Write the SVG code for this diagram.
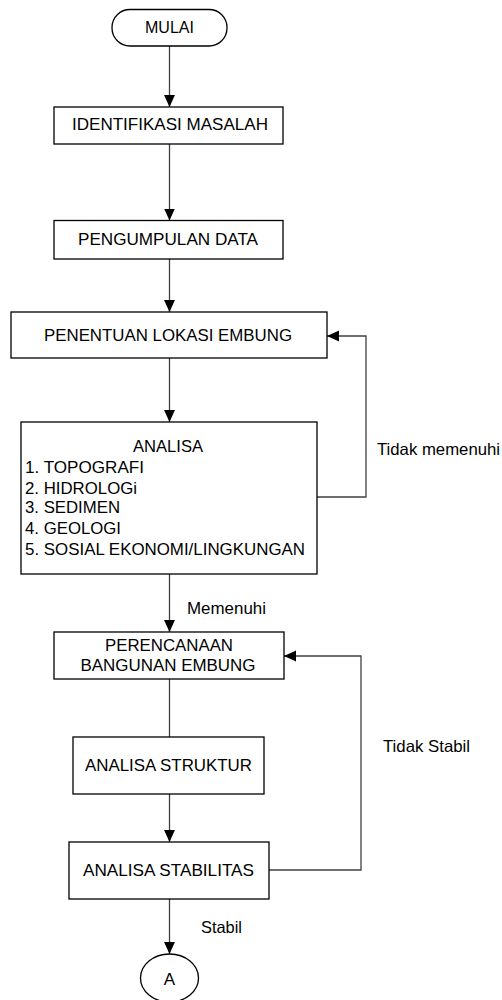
<svg xmlns="http://www.w3.org/2000/svg" width="502" height="1000" viewBox="0 0 502 1000">
<style>
.box{fill:#fff;stroke:#000;stroke-width:1.3}
.ln{fill:none;stroke:#404040;stroke-width:1.3}
.t{font-family:"Liberation Sans",Arial,sans-serif;font-size:16.5px;fill:#000}
.c{text-anchor:middle}
</style>
<defs>
<marker id="ah" markerUnits="userSpaceOnUse" markerWidth="12" markerHeight="12" viewBox="0 0 11 10" refX="11" refY="5" orient="auto">
<path d="M0,0 L11,5 L0,10 Z" fill="#000"/>
</marker>
</defs>
<rect width="502" height="1000" fill="#fff"/>
<g id="connectors">
<line class="ln" x1="169.5" y1="46" x2="169.5" y2="107" marker-end="url(#ah)"/>
<line class="ln" x1="169.5" y1="144" x2="169.5" y2="220.5" marker-end="url(#ah)"/>
<line class="ln" x1="169.5" y1="259" x2="169.5" y2="312" marker-end="url(#ah)"/>
<line class="ln" x1="169.5" y1="358" x2="169.5" y2="422" marker-end="url(#ah)"/>
<line class="ln" x1="169.5" y1="574" x2="169.5" y2="632" marker-end="url(#ah)"/>
<polyline class="ln" points="317,497 366,497 366,336 327,336" marker-end="url(#ah)"/>
<line class="ln" x1="169.5" y1="679" x2="169.5" y2="737"/>
<line class="ln" x1="169.5" y1="794" x2="169.5" y2="842" marker-end="url(#ah)"/>
<polyline class="ln" points="269,870 361,870 361,656 284,656" marker-end="url(#ah)"/>
<line class="ln" x1="169.5" y1="899" x2="169.5" y2="954" marker-end="url(#ah)"/>
<text class="t" x="377" y="455" textLength="123" lengthAdjust="spacingAndGlyphs">Tidak memenuhi</text>
<text class="t" x="187" y="614" textLength="79" lengthAdjust="spacingAndGlyphs">Memenuhi</text>
<text class="t" x="383" y="752" textLength="87" lengthAdjust="spacingAndGlyphs">Tidak Stabil</text>
<text class="t" x="201" y="933" textLength="41" lengthAdjust="spacingAndGlyphs">Stabil</text>
</g>
<g id="mulai">
<rect class="box" x="112" y="9.5" width="115" height="36.5" rx="18" ry="18"/>
<text class="t c" x="169.5" y="33" textLength="49" lengthAdjust="spacingAndGlyphs">MULAI</text>
</g>
<g id="identifikasi">
<rect class="box" x="54" y="107" width="229" height="37"/>
<text class="t c" x="170" y="130" textLength="196" lengthAdjust="spacingAndGlyphs">IDENTIFIKASI MASALAH</text>
</g>
<g id="pengumpulan">
<rect class="box" x="54" y="220.5" width="229" height="38.5"/>
<text class="t c" x="168" y="245" textLength="180" lengthAdjust="spacingAndGlyphs">PENGUMPULAN DATA</text>
</g>
<g id="penentuan">
<rect class="box" x="11" y="312" width="316" height="46"/>
<text class="t c" x="168" y="341" textLength="248" lengthAdjust="spacingAndGlyphs">PENENTUAN LOKASI EMBUNG</text>
</g>
<g id="analisa">
<rect class="box" x="21" y="422" width="296" height="152"/>
<text class="t c" x="168" y="452" textLength="70" lengthAdjust="spacingAndGlyphs">ANALISA</text>
<text class="t" x="25" y="473" textLength="119" lengthAdjust="spacingAndGlyphs">1. TOPOGRAFI</text>
<text class="t" x="25" y="494" textLength="112" lengthAdjust="spacingAndGlyphs">2. HIDROLOGi</text>
<text class="t" x="25" y="513" textLength="95" lengthAdjust="spacingAndGlyphs">3. SEDIMEN</text>
<text class="t" x="25" y="534" textLength="96" lengthAdjust="spacingAndGlyphs">4. GEOLOGI</text>
<text class="t" x="25" y="555" textLength="280" lengthAdjust="spacingAndGlyphs">5. SOSIAL EKONOMI/LINGKUNGAN</text>
</g>
<g id="perencanaan">
<rect class="box" x="54" y="632" width="230" height="47"/>
<text class="t c" x="169" y="651" textLength="128" lengthAdjust="spacingAndGlyphs">PERENCANAAN</text>
<text class="t c" x="168" y="671" textLength="175" lengthAdjust="spacingAndGlyphs">BANGUNAN EMBUNG</text>
</g>
<g id="struktur">
<rect class="box" x="73" y="737" width="191" height="57"/>
<text class="t c" x="168.5" y="771" textLength="167" lengthAdjust="spacingAndGlyphs">ANALISA STRUKTUR</text>
</g>
<g id="stabilitas">
<rect class="box" x="69" y="842" width="200" height="57"/>
<text class="t c" x="168.5" y="876" textLength="171" lengthAdjust="spacingAndGlyphs">ANALISA STABILITAS</text>
</g>
<g id="a">
<ellipse class="box" cx="169.5" cy="978" rx="29" ry="24"/>
<text class="t c" x="169.5" y="985" style="font-size:17px">A</text>
</g>
</svg>
